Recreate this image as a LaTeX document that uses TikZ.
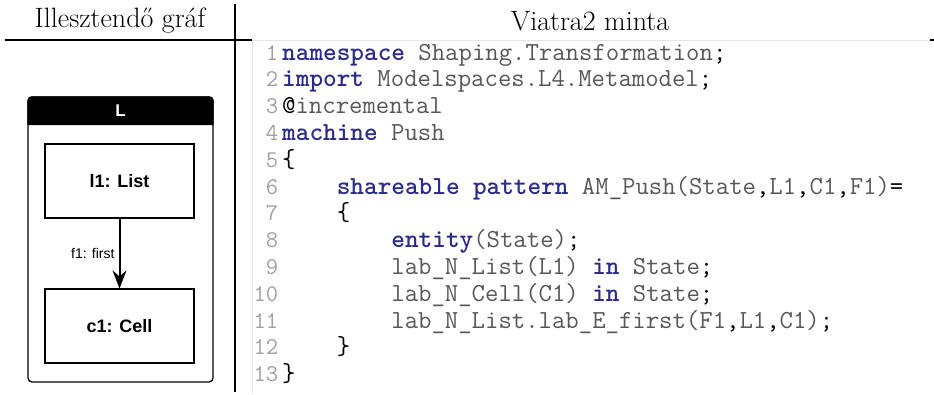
\documentclass[tikz,border=0pt]{standalone}
\usepackage{fontspec}
\newfontfamily\arialf{Liberation Sans}
\usetikzlibrary{arrows.meta}
\definecolor{kwc}{HTML}{2B2B8C}
\definecolor{idc}{HTML}{5A5656}
\definecolor{numc}{HTML}{A0A0A0}
\definecolor{framec}{HTML}{E4E4E4}
\newcommand{\kw}[1]{\textcolor{kwc}{\bfseries #1}}
\newcommand{\pn}[1]{\textcolor{black}{#1}}
\tikzset{
  codeline/.style={anchor=base west, inner sep=0pt, text=idc, font=\ttfamily\fontsize{26}{30}\selectfont},
  lnum/.style={anchor=base east, inner sep=0pt, text=numc, font=\ttfamily\fontsize{24}{28}\selectfont},
  heading/.style={inner sep=0pt, font=\fontsize{28}{32}\selectfont},
  classbox/.style={draw, line width=1.1pt, minimum width=149pt, minimum height=74pt, inner sep=0pt, font=\arialf\bfseries\fontsize{18}{20}\selectfont},
  rule/.style={line width=1.1pt}
}
\begin{document}
\begin{tikzpicture}[x=1pt,y=-1pt]
\useasboundingbox (0,0) rectangle (934,394);
% headings
\node[heading] (h1) at (120,21) {Illesztendő gráf};
\node[heading] (h2) at (590,21) {Viatra2 minta};
% rules
\draw[rule] (5,40) -- (252,40);
\draw[line width=1pt, framec] (252,40) -- (930,40);
\draw[rule] (930,40) -- (934,40);
\draw[rule] (235,4) -- (235,392);
\draw[line width=1pt, framec] (252,40) -- (252,394);
% left diagram
\node[draw, line width=1.3pt, rounded corners=4pt, minimum width=185pt, minimum height=285pt, inner sep=0pt] (Lbox) at (120.5,239.5) {};
\fill[rounded corners=4pt] (Lbox.west |- 0,125) -- (Lbox.north west) -- (Lbox.north east) [sharp corners] -- (Lbox.east |- 0,125) -- cycle;
\node[text=white, font=\arialf\bfseries\fontsize{17}{19}\selectfont, inner sep=0pt] (Lt) at (120.5,111) {L};
\node[classbox] (l1) at (119.5,181) {l1: List};
\node[classbox] (c1) at (119.5,326) {c1: Cell};
\draw[line width=2pt, -{Stealth[length=18pt,width=14pt,inset=6pt]}] (l1.south) -- node[left, pos=0.5, inner sep=4pt, font=\arialf\fontsize{14}{16}\selectfont] {f1: first} (c1.north);
% code
\foreach \i in {1,...,13} {
  \node[lnum] (n\i) at (278.5, {60+(\i-1)*26.8}) {\i};
}
\node[codeline] (c1l) at (282,60) {\kw{namespace} Shaping.Transformation\pn{;}};
\node[codeline] (c2l) at (282,86.8) {\kw{import} Modelspaces.L4.Metamodel\pn{;}};
\node[codeline] (c3l) at (282,113.6) {\pn{@}incremental};
\node[codeline] (c4l) at (282,140.4) {\kw{machine} Push};
\node[codeline] (c5l) at (282,167.2) {\pn{\{}};
\node[codeline] (c6l) at (336.6,194) {\kw{shareable} \kw{pattern} AM\_Push(State\pn{,}L1\pn{,}C1\pn{,}F1)\pn{=}};
\node[codeline] (c7l) at (336.6,220.8) {\pn{\{}};
\node[codeline] (c8l) at (391.2,247.6) {\kw{entity}(State)\pn{;}};
\node[codeline] (c9l) at (391.2,274.4) {lab\_N\_List(L1) \kw{in} State\pn{;}};
\node[codeline] (c10l) at (391.2,301.2) {lab\_N\_Cell(C1) \kw{in} State\pn{;}};
\node[codeline] (c11l) at (391.2,328) {lab\_N\_List.lab\_E\_first(F1\pn{,}L1\pn{,}C1)\pn{;}};
\node[codeline] (c12l) at (336.6,354.8) {\pn{\}}};
\node[codeline] (c13l) at (282,381.6) {\pn{\}}};
\end{tikzpicture}
\end{document}
